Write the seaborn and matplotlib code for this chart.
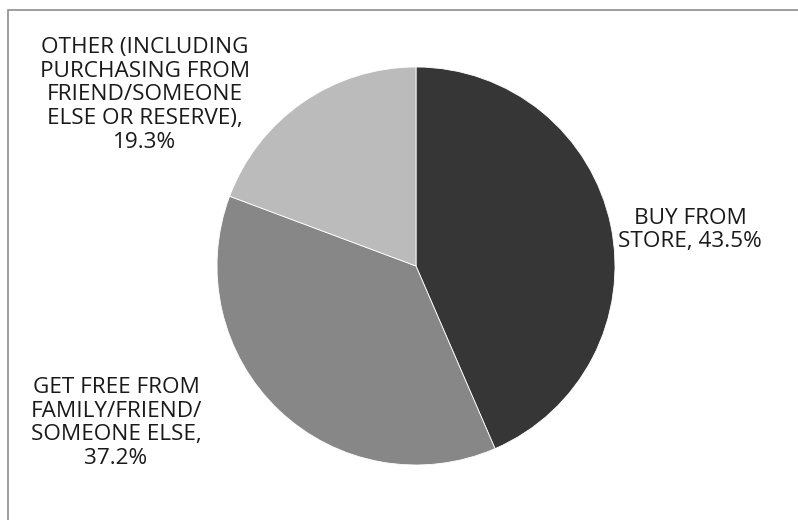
import matplotlib
matplotlib.use('Agg')
import matplotlib.pyplot as plt
import seaborn as sns
from matplotlib.patches import Rectangle

# data
labels = ['BUY FROM\nSTORE, 43.5%',
          'GET FREE FROM\nFAMILY/FRIEND/\nSOMEONE ELSE,\n37.2%',
          'OTHER (INCLUDING\nPURCHASING FROM\nFRIEND/SOMEONE\nELSE OR RESERVE),\n19.3%']
shares = [43.5, 37.2, 19.3]
colors = ['#363636', '#878787', '#bbbbbb']

sns.set_theme(style='white')
plt.rcParams['font.family'] = ['Open Sans', 'DejaVu Sans']

fig = plt.figure(figsize=(7.98, 5.2), dpi=100)
ax = fig.add_axes([0, 0, 1, 1])

ax.pie(shares, colors=colors, startangle=90, counterclock=False,
       radius=199, center=(416, 254), frame=True,
       wedgeprops={'edgecolor': 'white', 'linewidth': 0.6})
ax.set_xlim(0, 798)
ax.set_ylim(0, 520)
ax.set_aspect('equal')
ax.axis('off')

# label positions (pixel coords, y from bottom)
label_pos = [(690, 290), (116, 97), (145, 425)]
for lab, (x, y) in zip(labels, label_pos):
    ax.text(x, y, lab, ha='center', va='center', fontsize=16.2,
            color='#1a1a1a', linespacing=1.16)

# chart border (only top/left visible)
fig.patches.append(Rectangle((8 / 798, -0.1), 1.2, 1.1 - 10 / 520,
                             transform=fig.transFigure, fill=False,
                             edgecolor='#8c8c8c', linewidth=1.2))

fig.savefig('out.png', dpi=100)
